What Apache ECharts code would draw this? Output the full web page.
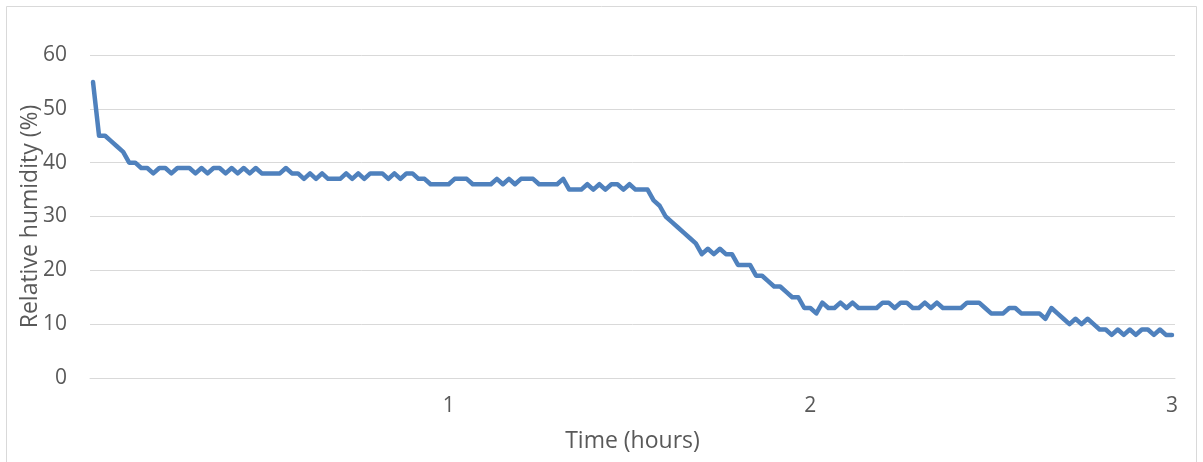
<!DOCTYPE html>
<html>
<head>
<meta charset="utf-8">
<script src="https://cdn.jsdelivr.net/npm/echarts@6/dist/echarts.min.js"></script>
<style>
html,body{margin:0;padding:0;background:#fff;}
#chart{width:1203px;height:462px;}
</style>
</head>
<body>
<div id="chart"></div>
<script>
// Time stamps in minutes (one reading per minute)
const minutes = Array.from({length: 180}, (_, i) => i + 1);
// Tick labels (hours) shown at these minute positions
const tickMinutes = [60, 120, 180];
const tickLabels = ['1', '2', '3'];
// Relative humidity (%) readings
const humidity = [
  55,45,45,44,43,42,40,40,39,39,
  38,39,39,38,39,39,39,38,39,38,
  39,39,38,39,38,39,38,39,38,38,
  38,38,39,38,38,37,38,37,38,37,
  37,37,38,37,38,37,38,38,38,37,
  38,37,38,38,37,37,36,36,36,36,
  37,37,37,36,36,36,36,37,36,37,
  36,37,37,37,36,36,36,36,37,35,
  35,35,36,35,36,35,36,36,35,36,
  35,35,35,33,32,30,29,28,27,26,
  25,23,24,23,24,23,23,21,21,21,
  19,19,18,17,17,16,15,15,13,13,
  12,14,13,13,14,13,14,13,13,13,
  13,14,14,13,14,14,13,13,14,13,
  14,13,13,13,13,14,14,14,13,12,
  12,12,13,13,12,12,12,12,11,13,
  12,11,10,11,10,11,10,9,9,8,
  9,8,9,8,9,9,8,9,8,8
];
const yTicks = {min: 0, max: 60, interval: 10};

const chart = echarts.init(document.getElementById('chart'), null, {renderer: 'canvas'});
const font = '"Open Sans", "Noto Sans", sans-serif';
chart.setOption({
  backgroundColor: '#ffffff',
  animation: false,
  graphic: [{
    type: 'rect',
    shape: {x: 6.5, y: 6.5, width: 1190, height: 470},
    style: {fill: 'none', stroke: '#d9d9d9', lineWidth: 1},
    silent: true
  }],
  grid: {left: 90, right: 28, top: 55, bottom: 84},
  xAxis: {
    type: 'category',
    data: minutes,
    boundaryGap: true,
    name: 'Time (hours)',
    nameLocation: 'middle',
    nameGap: 52,
    nameTextStyle: {color: '#595959', fontSize: 23, fontFamily: font},
    axisLine: {show: true, lineStyle: {color: '#d9d9d9', width: 1}},
    axisTick: {show: false},
    splitLine: {show: false},
    axisLabel: {
      color: '#595959', fontSize: 21, fontFamily: font, margin: 18,
      interval: function (index, value) { return tickMinutes.indexOf(Number(value)) >= 0; },
      formatter: function (value) {
        const k = tickMinutes.indexOf(Number(value));
        return k >= 0 ? tickLabels[k] : '';
      }
    }
  },
  yAxis: {
    type: 'value',
    min: yTicks.min, max: yTicks.max, interval: yTicks.interval,
    name: 'Relative humidity (%)',
    nameLocation: 'middle',
    nameGap: 48,
    nameMoveOverlap: false,
    nameRotate: 90,
    nameTextStyle: {color: '#595959', fontSize: 23, fontFamily: font},
    axisLine: {show: false},
    axisTick: {show: false},
    axisLabel: {color: '#595959', fontSize: 21, fontFamily: font, margin: 23},
    splitLine: {show: true, lineStyle: {color: '#d9d9d9', width: 1}}
  },
  series: [{
    type: 'line',
    data: humidity,
    showSymbol: false,
    symbol: 'none',
    lineStyle: {color: '#4f81bd', width: 4.5, cap: 'round', join: 'round'},
    itemStyle: {color: '#4f81bd'}
  }]
});
</script>
</body>
</html>
